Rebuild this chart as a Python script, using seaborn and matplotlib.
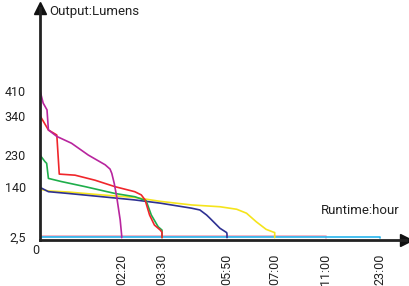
import numpy as np
import pandas as pd
import matplotlib
matplotlib.use("Agg")
import matplotlib.pyplot as plt
import seaborn as sns

# ---- data (runtime in hours, output in lumens) ----
mag_t = [0, 0.09, 0.2, 0.24, 0.48, 0.9, 1.38, 1.86, 2.0, 2.05, 2.12, 2.19, 2.29, 2.333, 2.333]
mag_v = [410, 375, 356, 300, 282, 263, 230, 203, 191, 179, 151, 114, 49, 5, 0]
red_t = [0, 0.24, 0.48, 0.55, 1.0, 1.57, 2.14, 2.71, 2.9, 3.01, 3.14, 3.28, 3.45, 3.5, 3.5]
red_v = [340, 300, 286, 177, 174, 160, 142, 128, 119, 105, 63, 35, 21, 15, 0]
grn_t = [0, 0.14, 0.19, 0.24, 0.62, 1.29, 2.14, 2.71, 3.04, 3.19, 3.39, 3.5, 3.5]
grn_v = [230, 212, 207, 165, 156, 142, 123, 114, 103, 63, 30, 21, 0]
nav_t = [0, 0.24, 0.81, 1.76, 2.71, 3.45, 4.56, 4.86, 5.1, 5.22, 5.4, 5.58, 5.82, 5.833, 5.833]
nav_v = [140, 128, 123, 114, 105, 96, 82, 77, 63, 54, 40, 26, 14, 10, 0]
yel_t = [0.05, 0.24, 0.81, 1.76, 2.71, 3.45, 4.56, 5.58, 6.07, 6.31, 6.55, 6.79, 6.95, 7.0, 7.0]
yel_v = [134, 130, 127, 119, 112, 101, 91, 86, 79, 68, 44, 23, 16, 14, 0]
pnk_t = [0, 11, 11]
pnk_v = [4.5, 4.5, 0]
cyn_t = [0, 23, 23]
cyn_v = [2.5, 2.5, 0]

series = {
    "pink": (pnk_t, pnk_v),
    "cyan": (cyn_t, cyn_v),
    "yellow": (yel_t, yel_v),
    "navy": (nav_t, nav_v),
    "green": (grn_t, grn_v),
    "red": (red_t, red_v),
    "magenta": (mag_t, mag_v),
}
palette = {
    "pink": "#F4A9BC",
    "cyan": "#27B5EE",
    "yellow": "#F5E41C",
    "navy": "#2E3192",
    "green": "#1FAE4B",
    "red": "#F0262B",
    "magenta": "#B8259E",
}

y_ticks = [2.5, 140, 230, 340, 410]
y_labels = ["2,5", "140", "230", "340", "410"]
x_ticks = [2.333, 3.5, 5.833, 7, 11, 23]
x_labels = ["02:20", "03:30", "05:50", "07:00", "11:00", "23:00"]

# axis position mapping (non-uniform runtime axis)
H = [0, 2.333, 3.5, 5.833, 7, 11, 23, 30.0]
P = [40, 121.7, 162, 227, 274.7, 326, 380, 406]

rows = []
for name, (t, v) in series.items():
    for i, (a, b) in enumerate(zip(t, v)):
        rows.append({"series": name, "t": a, "v": b, "order": i})
df = pd.DataFrame(rows)

sns.set_style("white")
plt.rcParams["font.family"] = ["Roboto", "DejaVu Sans"]

fig = plt.figure(figsize=(4.10, 2.86), dpi=100)
ax = fig.add_axes([40 / 410, (286 - 240) / 286, (406 - 40) / 410, (240 - 8) / 286])

ax.set_xscale("function", functions=(lambda x: np.interp(x, H, P),
                                      lambda p: np.interp(p, P, H)))

sns.lineplot(data=df, x="t", y="v", hue="series", palette=palette,
             hue_order=list(series.keys()), sort=False, estimator=None,
             units="series", linewidth=1.2, legend=False, ax=ax)

ax.set_xlim(0, 30)
ax.set_ylim(-6.7, 640)

for s in ["top", "right"]:
    ax.spines[s].set_visible(False)
for s in ["left", "bottom"]:
    ax.spines[s].set_color("#222222")
    ax.spines[s].set_linewidth(2)

ax.set_yticks(y_ticks)
ax.set_yticklabels(y_labels, fontsize=9, color="#222222")
ax.set_xticks(x_ticks)
ax.set_xticklabels(x_labels, fontsize=9, color="#222222", rotation=90)
ax.tick_params(axis="both", which="both", direction="out", length=6,
               width=1.2, color="#222222", pad=4)
ax.tick_params(axis="x", which="minor", length=0)
ax.set_xlabel("")
ax.set_ylabel("")

# arrow heads
ax.plot(0, 1, marker="^", color="#111111", markersize=9,
        transform=ax.transAxes, clip_on=False)
ax.plot(1, 0, marker=">", color="#111111", markersize=9,
        transform=ax.transAxes, clip_on=False)

ax.text(49 / 410, 1 - 12 / 286, "Output:Lumens", transform=fig.transFigure,
        fontsize=9.5, color="#222222", va="center", ha="left")
ax.text(400 / 410, 1 - 211 / 286, "Runtime:hour", transform=fig.transFigure,
        fontsize=9.5, color="#222222", va="center", ha="right")
ax.text(36 / 410, 1 - 250 / 286, "0", transform=fig.transFigure,
        fontsize=9, color="#222222", va="center", ha="center")

fig.savefig("out.png", dpi=100)
